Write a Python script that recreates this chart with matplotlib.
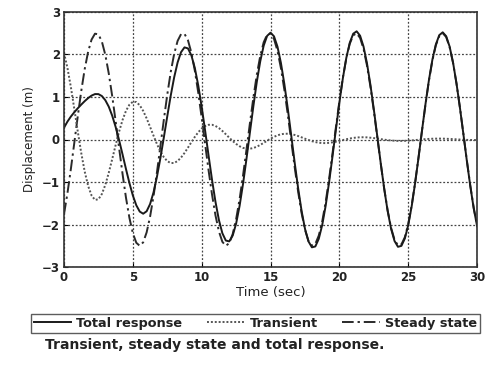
import numpy as np
import matplotlib
matplotlib.use("Agg")
import matplotlib.pyplot as plt

# sample times (s), one reading every 0.25 s
time = np.linspace(0, 30, 121)

# values (m)
total = [
    0.277, 0.421, 0.540, 0.642, 0.734, 0.820, 0.901, 0.973, 1.032, 1.068,
    1.067, 1.022, 0.924, 0.772, 0.560, 0.295, -0.014, -0.350, -0.694, -1.024,
    -1.317, -1.547, -1.695, -1.745, -1.687, -1.518, -1.244, -0.875, -0.436, 0.050,
    0.549, 1.033, 1.463, 1.813, 2.054, 2.166, 2.142, 1.978, 1.680, 1.268,
    0.764, 0.202, -0.384, -0.952, -1.468, -1.895, -2.205, -2.376, -2.395, -2.258,
    -1.974, -1.561, -1.043, -0.454, 0.167, 0.782, 1.355, 1.838, 2.207, 2.437,
    2.511, 2.425, 2.184, 1.802, 1.305, 0.723, 0.094, -0.543, -1.144, -1.676,
    -2.102, -2.395, -2.535, -2.515, -2.334, -2.010, -1.556, -1.002, -0.387, 0.252,
    0.873, 1.443, 1.919, 2.274, 2.487, 2.544, 2.440, 2.184, 1.791, 1.285,
    0.702, 0.072, -0.560, -1.157, -1.680, -2.099, -2.386, -2.523, -2.501, -2.327,
    -2.008, -1.562, -1.015, -0.409, 0.222, 0.836, 1.400, 1.877, 2.234, 2.454,
    2.520, 2.428, 2.186, 1.809, 1.319, 0.747, 0.129, -0.497, -1.090, -1.619,
    -2.043,
]

transient = [
    2.034, 1.683, 1.229, 0.715, 0.186, -0.314, -0.749, -1.090, -1.316, -1.420,
    -1.405, -1.281, -1.066, -0.782, -0.461, -0.130, 0.184, 0.458, 0.674, 0.819,
    0.887, 0.881, 0.805, 0.672, 0.497, 0.297, 0.090, -0.107, -0.281, -0.416,
    -0.509, -0.554, -0.552, -0.506, -0.424, -0.317, -0.192, -0.062, 0.062, 0.171,
    0.258, 0.317, 0.346, 0.346, 0.318, 0.268, 0.201, 0.123, 0.042, -0.036,
    -0.104, -0.159, -0.197, -0.216, -0.217, -0.200, -0.169, -0.127, -0.079, -0.028,
    0.020, 0.063, 0.098, 0.122, 0.135, 0.136, 0.126, 0.107, 0.081, 0.051,
    0.019, -0.011, -0.039, -0.061, -0.076, -0.084, -0.085, -0.079, -0.067, -0.051,
    -0.033, -0.013, 0.006, 0.023, 0.037, 0.047, 0.052, 0.053, 0.050, 0.042,
    0.033, 0.021, 0.009, -0.004, -0.014, -0.023, -0.029, -0.033, -0.033, -0.031,
    -0.027, -0.021, -0.013, -0.006, 0.002, 0.009, 0.014, 0.018, 0.020, 0.021,
    0.020, 0.017, 0.013, 0.009, 0.004, -0.001, -0.005, -0.009, -0.011, -0.013,
    -0.013,
]

steady = [
    -1.757, -1.262, -0.689, -0.073, 0.548, 1.134, 1.650, 2.063, 2.348, 2.488,
    2.472, 2.303, 1.990, 1.554, 1.021, 0.425, -0.198, -0.808, -1.368, -1.843,
    -2.204, -2.428, -2.500, -2.417, -2.184, -1.815, -1.334, -0.768, -0.155, 0.466,
    1.058, 1.587, 2.015, 2.319, 2.478, 2.483, 2.334, 2.040, 1.618, 1.097,
    0.506, -0.115, -0.730, -1.298, -1.786, -2.163, -2.406, -2.499, -2.437, -2.222,
    -1.870, -1.402, -0.846, -0.238, 0.384, 0.982, 1.524, 1.965, 2.286, 2.465,
    2.491, 2.362, 2.086, 1.680, 1.170, 0.587, -0.032, -0.650, -1.225, -1.727,
    -2.121, -2.384, -2.496, -2.454, -2.258, -1.926, -1.471, -0.923, -0.320, 0.303,
    0.906, 1.456, 1.913, 2.251, 2.450, 2.497, 2.388, 2.131, 1.741, 1.243,
    0.669, 0.051, -0.569, -1.153, -1.666, -2.076, -2.357, -2.490, -2.468, -2.296,
    -1.981, -1.541, -1.002, -0.403, 0.220, 0.827, 1.386, 1.859, 2.214, 2.433,
    2.500, 2.411, 2.173, 1.800, 1.315, 0.748, 0.134, -0.488, -1.079, -1.606,
    -2.030,
]

x_ticks = [0, 5, 10, 15, 20, 25, 30]
y_ticks = [-3, -2, -1, 0, 1, 2, 3]

plt.rcParams["font.family"] = ["DejaVu Sans"]

fig = plt.figure(figsize=(5.02, 3.72), dpi=100)
ax = fig.add_axes([0.1275, 0.282, 0.823, 0.686])

l_steady, = ax.plot(time, steady, color="#2a2a2a", lw=1.4,
                    linestyle=(0, (6, 2, 1.2, 2)), label="Steady state")
l_trans, = ax.plot(time, transient, color="#555555", lw=1.4,
                   linestyle=(0, (1, 1)), label="Transient")
l_total, = ax.plot(time, total, color="#1a1a1a", lw=1.4, label="Total response")

ax.set_xlim(0, 30)
ax.set_ylim(-3, 3)
ax.set_xticks(x_ticks)
ax.set_yticks(y_ticks)
ax.grid(True, color="#444444", linestyle=(0, (1.5, 1.5)), linewidth=0.9)
ax.tick_params(direction="in", length=3, width=0.8, labelsize=8.5, pad=3)
for lab in ax.get_xticklabels() + ax.get_yticklabels():
    lab.set_fontweight("bold")
    lab.set_color("#222222")
for sp in ax.spines.values():
    sp.set_linewidth(1.2)
    sp.set_color("#333333")

ax.set_xlabel("Time (sec)", fontsize=9.5, color="#222222", labelpad=1)
ax.set_ylabel("Displacement (m)", fontsize=8.5, color="#222222", labelpad=4)

leg = fig.legend(handles=[l_total, l_trans, l_steady],
                 loc="upper left", bbox_to_anchor=(0.062, 0.155), ncol=3,
                 fontsize=9.3, frameon=True, fancybox=False, borderpad=0.2,
                 handlelength=2.9, handletextpad=0.4, columnspacing=1.9,
                 borderaxespad=0)
leg.get_frame().set_edgecolor("#333333")
leg.get_frame().set_linewidth(1.0)
for t in leg.get_texts():
    t.set_fontweight("bold")
    t.set_color("#222222")

fig.text(0.0896, 0.073, "Transient, steady state and total response.",
         fontsize=10, fontweight="bold", color="#222222", va="center")

fig.savefig("out.png", dpi=100)
